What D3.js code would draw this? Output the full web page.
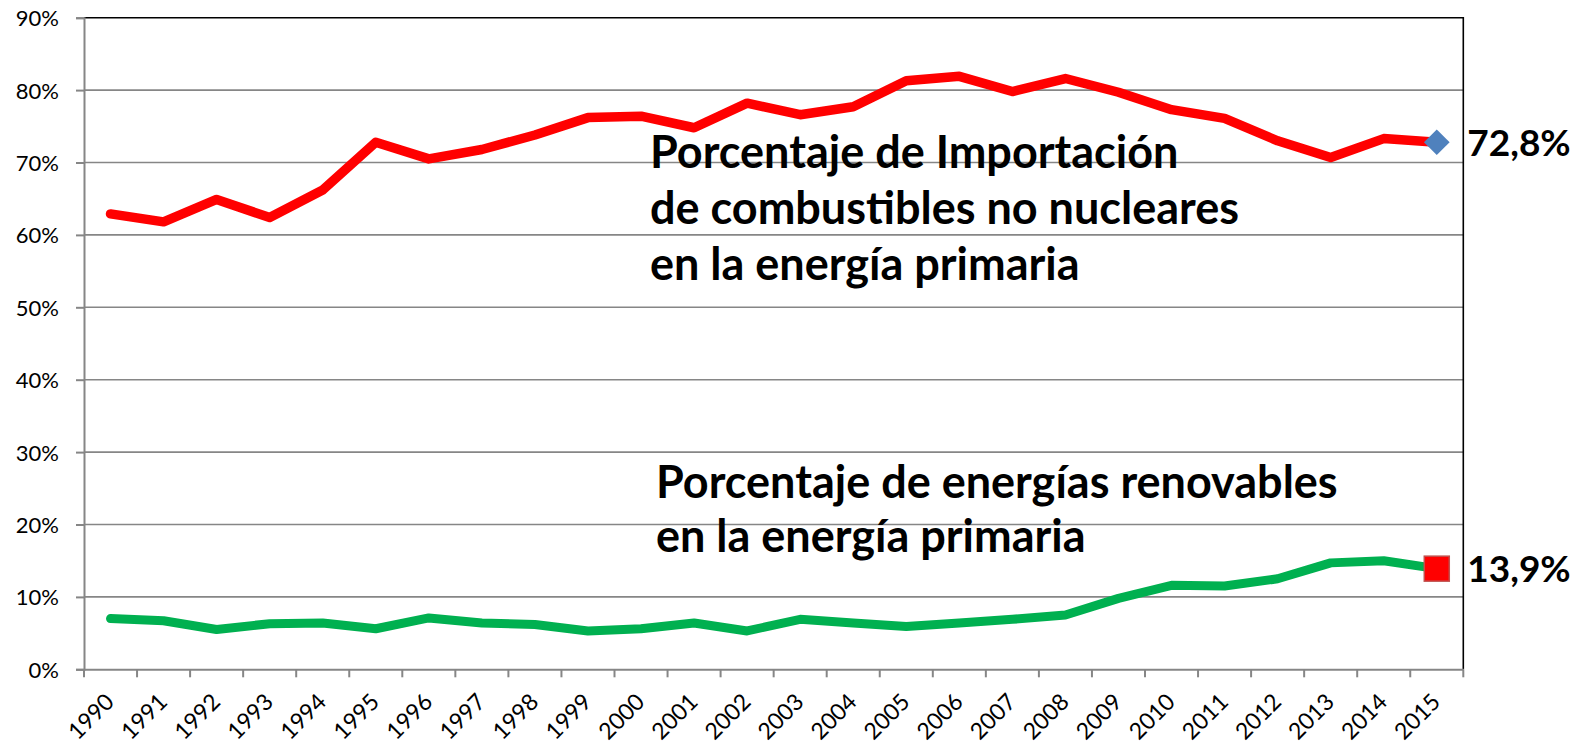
<!DOCTYPE html>
<html>
<head>
<meta charset="utf-8">
<script src="https://cdn.jsdelivr.net/npm/d3@7/dist/d3.min.js"></script>
<style>
    body { margin: 0; background: #fff; }
    text { font-family: Lato, "Open Sans", sans-serif; fill: #000; }
</style>
</head>
<body>
<div id="chart"></div>
<script>
//// ============================================ DATA ============================================ ////

var years = ["1990", "1991", "1992", "1993", "1994", "1995", "1996", "1997", "1998", "1999",
    "2000", "2001", "2002", "2003", "2004", "2005", "2006", "2007", "2008", "2009",
    "2010", "2011", "2012", "2013", "2014", "2015"];

// % importacion de combustibles no nucleares
var importPct = [62.9, 61.8, 64.9, 62.4, 66.2, 72.8, 70.5, 71.8, 73.8, 76.2,
    76.4, 74.8, 78.2, 76.6, 77.7, 81.3, 81.9, 79.8, 81.6, 79.7,
    77.3, 76.1, 73.0, 70.7, 73.3, 72.8];

// % renovables
var renewPct = [7.0, 6.7, 5.5, 6.3, 6.4, 5.6, 7.1, 6.4, 6.2, 5.3,
    5.6, 6.4, 5.3, 6.9, 6.4, 5.9, 6.4, 6.9, 7.5, 9.8,
    11.6, 11.5, 12.5, 14.7, 15.0, 13.9];

var yTicks = [0, 10, 20, 30, 40, 50, 60, 70, 80, 90];

var importLabel = ["Porcentaje de Importación", "de combustibles no nucleares", "en la energía primaria"];
var renewLabel = ["Porcentaje de energías renovables", "en la energía primaria"];

//// ============================================ LAYOUT ============================================ ////

var width = 1591;
var height = 745;
var plotLeft = 84, plotRight = 1463.3, plotTop = 17.7, plotBottom = 669.3;

var svg = d3.select("#chart").append("svg")
    .attr("width", width)
    .attr("height", height);

var x = d3.scaleBand()
    .domain(years)
    .range([plotLeft, plotRight])
    .padding(0);

var y = d3.scaleLinear()
    .domain([0, 90])
    .range([plotBottom, plotTop]);

function cx(d) { return x(d) + x.bandwidth() / 2; }

//// ============================================ GRID & AXES ============================================ ////

svg.append("g")
    .selectAll("line")
    .data(yTicks.slice(1, -1))
    .enter().append("line")
    .attr("x1", plotLeft)
    .attr("x2", plotRight)
    .attr("y1", function(d) { return y(d); })
    .attr("y2", function(d) { return y(d); })
    .style("stroke", "#868686")
    .style("stroke-width", 1.6);

// top and right border
svg.append("path")
    .attr("d", "M" + plotLeft + "," + y(90) + "H" + plotRight + "V" + plotBottom)
    .style("fill", "none")
    .style("stroke", "#000")
    .style("stroke-width", 1.6);

var yAxis = svg.append("g")
    .attr("transform", "translate(" + plotLeft + ",0)")
    .call(d3.axisLeft(y)
        .tickValues(yTicks)
        .tickSize(8)
        .tickPadding(17)
        .tickFormat(function(d) { return d + "%"; }));

var xAxis = svg.append("g")
    .attr("transform", "translate(0," + plotBottom + ")")
    .call(d3.axisBottom(x).tickSize(0).tickFormat(""));

[yAxis, xAxis].forEach(function(ax) {
    ax.select(".domain").style("stroke", "#868686").style("stroke-width", 2);
    ax.selectAll(".tick line").style("stroke", "#868686").style("stroke-width", 2);
});

yAxis.selectAll(".tick text")
    .style("font-size", "22px")
    .attr("dy", "0.36em");

// x tick marks sit on category boundaries
svg.append("g")
    .selectAll("line")
    .data(years.concat(["end"]))
    .enter().append("line")
    .attr("x1", function(d, i) { return i < years.length ? x(d) : plotRight; })
    .attr("x2", function(d, i) { return i < years.length ? x(d) : plotRight; })
    .attr("y1", plotBottom)
    .attr("y2", plotBottom + 8)
    .style("stroke", "#868686")
    .style("stroke-width", 2);

svg.append("g")
    .selectAll("text")
    .data(years)
    .enter().append("text")
    .attr("transform", function(d) {
        return "translate(" + (cx(d) + 5) + "," + (plotBottom + 34) + ") rotate(-45)";
    })
    .style("text-anchor", "end")
    .style("font-size", "23px")
    .text(function(d) { return d; });

//// ============================================ LINES ============================================ ////

var line = d3.line()
    .x(function(d, i) { return cx(years[i]); })
    .y(function(d) { return y(d); });

svg.append("path")
    .datum(importPct)
    .attr("d", line)
    .style("fill", "none")
    .style("stroke", "#ff0000")
    .style("stroke-width", 9.5)
    .style("stroke-linejoin", "round")
    .style("stroke-linecap", "round");

svg.append("path")
    .datum(renewPct)
    .attr("d", line)
    .style("fill", "none")
    .style("stroke", "#00b050")
    .style("stroke-width", 9)
    .style("stroke-linejoin", "round")
    .style("stroke-linecap", "round");

// end markers
var lastYear = years[years.length - 1];
var lastImport = importPct[importPct.length - 1];
var lastRenew = renewPct[renewPct.length - 1];

svg.append("path")
    .attr("d", d3.symbol().type(d3.symbolSquare).size(330))
    .attr("transform", "translate(" + cx(lastYear) + "," + y(lastImport) + ") rotate(45)")
    .style("fill", "#4f81bd");

svg.append("rect")
    .attr("x", cx(lastYear) - 12.5)
    .attr("y", y(lastRenew) - 12.5)
    .attr("width", 25)
    .attr("height", 25)
    .style("fill", "#ff0000")
    .style("stroke", "#c0504d")
    .style("stroke-width", 1.5);

var pctFormat = function(v) { return d3.format(".1f")(v).replace(".", ",") + "%"; };

svg.selectAll(".end-label")
    .data([lastImport, lastRenew])
    .enter().append("text")
    .attr("class", "end-label")
    .attr("x", plotRight + 4)
    .attr("y", function(d) { return y(d); })
    .attr("dy", "0.36em")
    .style("font-size", "37px")
    .style("font-weight", "bold")
    .text(pctFormat);

//// ============================================ ANNOTATIONS ============================================ ////

svg.append("g")
    .selectAll("text")
    .data(importLabel)
    .enter().append("text")
    .attr("x", 650)
    .attr("y", function(d, i) { return 168 + i * 56; })
    .style("font-size", "45px")
    .style("font-weight", "bold")
    .text(function(d) { return d; });

svg.append("g")
    .selectAll("text")
    .data(renewLabel)
    .enter().append("text")
    .attr("x", 656)
    .attr("y", function(d, i) { return 498 + i * 54; })
    .style("font-size", "45px")
    .style("font-weight", "bold")
    .text(function(d) { return d; });
</script>
</body>
</html>
